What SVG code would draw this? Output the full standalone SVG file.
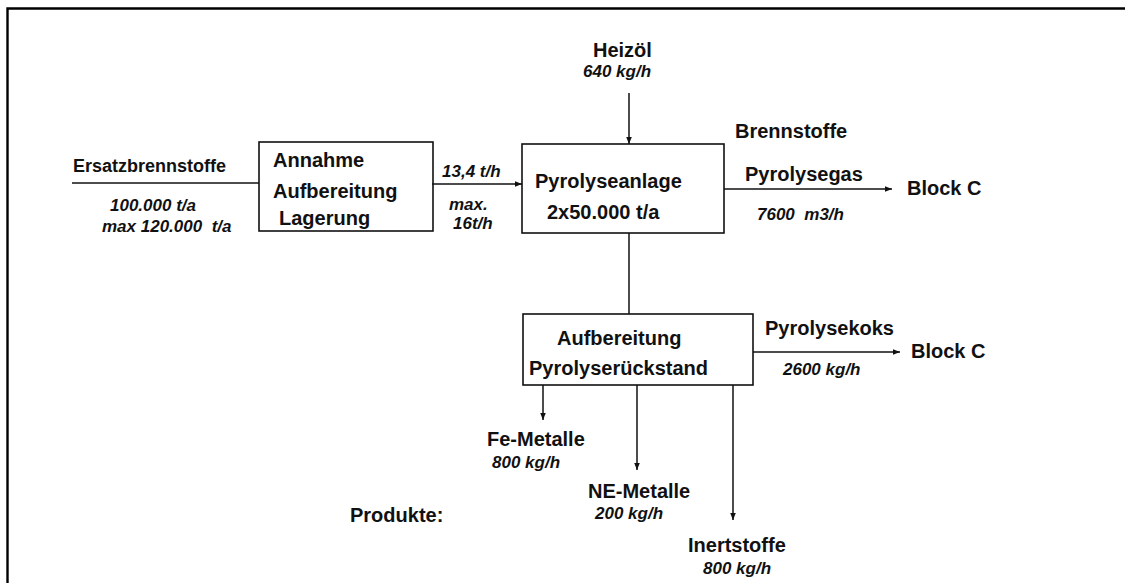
<svg xmlns="http://www.w3.org/2000/svg" width="1125" height="583" viewBox="0 0 1125 583">
<defs>
<marker id="ah" viewBox="0 0 10 8" refX="10" refY="4" markerWidth="7" markerHeight="5.6" markerUnits="userSpaceOnUse" orient="auto"><path d="M0,0 L10,4 L0,8 Z" fill="#111"/></marker>
<style>
.b{font-family:"Liberation Sans",Arial,sans-serif;font-weight:bold;font-size:20px;fill:#111}
.s{font-family:"Liberation Sans",Arial,sans-serif;font-weight:bold;font-size:18px;fill:#111}
.i{font-family:"Liberation Sans",Arial,sans-serif;font-weight:bold;font-style:italic;font-size:17px;fill:#111}
.box{fill:none;stroke:#111;stroke-width:1.6}
.ln{fill:none;stroke:#111;stroke-width:1.5}
</style>
</defs>
<rect width="1125" height="583" fill="#fff"/>
<path d="M7.5,583 V8.5 H1125" fill="none" stroke="#000" stroke-width="2.4"/>
<g id="connectors">
<path class="ln" d="M72,183 H259"/>
<path class="ln" d="M432,184 H522" marker-end="url(#ah)"/>
<path class="ln" d="M629,93 V144" marker-end="url(#ah)"/>
<path class="ln" d="M724,189 H892" marker-end="url(#ah)"/>
<path class="ln" d="M629,233 V314"/>
<path class="ln" d="M753,352 H900" marker-end="url(#ah)"/>
<path class="ln" d="M543,385 V420" marker-end="url(#ah)"/>
<path class="ln" d="M637,385 V470" marker-end="url(#ah)"/>
<path class="ln" d="M733,385 V520" marker-end="url(#ah)"/>
</g>
<g id="ersatzbrennstoffe">
<text class="s" x="73" y="172">Ersatzbrennstoffe</text>
<text class="i" x="110" y="211">100.000 t/a</text>
<text class="i" x="102" y="232" xml:space="preserve">max 120.000  t/a</text>
</g>
<g id="annahme">
<rect class="box" x="259" y="142" width="174" height="89"/>
<text class="b" x="273" y="167">Annahme</text>
<text class="b" x="273" y="198">Aufbereitung</text>
<text class="b" x="279" y="225">Lagerung</text>
</g>
<g id="flow1">
<text class="i" x="442" y="177">13,4 t/h</text>
<text class="i" x="449" y="210">max.</text>
<text class="i" x="453" y="229">16t/h</text>
</g>
<g id="heizoel">
<text class="b" x="593" y="57">Heizöl</text>
<text class="i" x="583" y="77">640 kg/h</text>
</g>
<g id="pyrolyseanlage">
<rect class="box" x="522" y="144" width="202" height="89"/>
<text class="b" x="535" y="188">Pyrolyseanlage</text>
<text class="b" x="547" y="219">2x50.000 t/a</text>
</g>
<g id="pyrolysegas">
<text class="b" x="735" y="138">Brennstoffe</text>
<text class="b" x="745" y="181">Pyrolysegas</text>
<text class="i" x="757" y="220" xml:space="preserve">7600  m3/h</text>
</g>
<g id="blockc1">
<text class="b" x="907" y="195">Block C</text>
</g>
<g id="aufbereitung">
<rect class="box" x="523" y="314" width="230" height="71"/>
<text class="b" x="557" y="345">Aufbereitung</text>
<text class="b" x="529" y="375">Pyrolyserückstand</text>
</g>
<g id="pyrolysekoks">
<text class="b" x="765" y="335">Pyrolysekoks</text>
<text class="i" x="783" y="375">2600 kg/h</text>
</g>
<g id="blockc2">
<text class="b" x="911" y="358">Block C</text>
</g>
<g id="fe">
<text class="b" x="487" y="446">Fe-Metalle</text>
<text class="i" x="492" y="468">800 kg/h</text>
</g>
<g id="ne">
<text class="b" x="588" y="498">NE-Metalle</text>
<text class="i" x="595" y="519">200 kg/h</text>
</g>
<g id="inert">
<text class="b" x="688" y="552">Inertstoffe</text>
<text class="i" x="703" y="574">800 kg/h</text>
</g>
<g id="produkte">
<text class="b" x="350" y="522">Produkte:</text>
</g>
</svg>
